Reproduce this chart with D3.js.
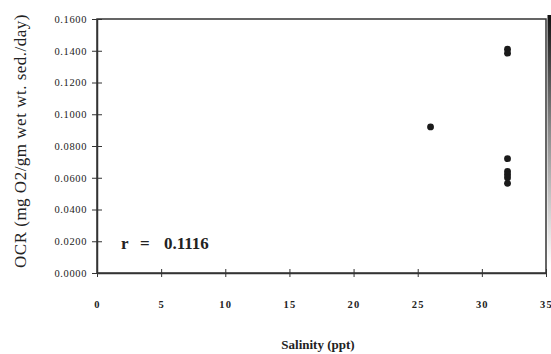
<!DOCTYPE html>
<html>
<head>
<meta charset="utf-8">
<script src="https://cdn.jsdelivr.net/npm/d3@7"></script>
<style>
  html, body { margin: 0; padding: 0; background: #fff; }
  svg { display: block; }
  text { font-family: "Liberation Serif", "DejaVu Serif", serif; fill: #222; }
</style>
</head>
<body>
<svg id="chart" width="551" height="354"></svg>
<script>
// Oxygen consumption rate vs salinity
const salinity = [26, 32, 32, 32, 32, 32, 32, 32];
const ocr = [0.0920, 0.1410, 0.1385, 0.0720, 0.0640, 0.0620, 0.0600, 0.0565];
const xTicks = [0, 5, 10, 15, 20, 25, 30, 35];
const yTicks = [0, 0.02, 0.04, 0.06, 0.08, 0.10, 0.12, 0.14, 0.16];
const xTitle = "Salinity (ppt)";
const yTitle = "OCR (mg O2/gm wet wt. sed./day)";

const svg = d3.select("#chart");
const m = { left: 97, right: 546, top: 19, bottom: 273 };

const x = d3.scaleLinear().domain([0, 35]).range([m.left, m.right]);
const y = d3.scaleLinear().domain([0, 0.16]).range([m.bottom, m.top]);

// frame
svg.append("rect")
  .attr("x", m.left).attr("y", m.top)
  .attr("width", m.right - m.left).attr("height", m.bottom - m.top)
  .attr("fill", "none").attr("stroke", "#333").attr("stroke-width", 1.5);

// dark scan edge at right
const grad = svg.append("defs").append("linearGradient")
  .attr("id", "edge").attr("x1", 0).attr("y1", 0).attr("x2", 0).attr("y2", 1);
grad.append("stop").attr("offset", "0%").attr("stop-color", "#111");
grad.append("stop").attr("offset", "45%").attr("stop-color", "#888");
grad.append("stop").attr("offset", "100%").attr("stop-color", "#fff");
svg.append("rect").attr("x", 547.5).attr("y", 15).attr("width", 3.5).attr("height", 250)
  .attr("fill", "url(#edge)");

// y axis
const yAxis = svg.append("g")
  .attr("transform", `translate(${m.left},0)`)
  .call(d3.axisLeft(y).tickValues(yTicks).tickFormat(d3.format(".4f"))
    .tickSize(5).tickSizeOuter(0));
yAxis.select(".domain").attr("stroke", "#333").attr("stroke-width", 1.5);
yAxis.selectAll(".tick line").attr("x2", 5).attr("x1", -5).attr("stroke", "#333");
yAxis.selectAll(".tick text")
  .attr("x", -10)
  .style("font-family", "Liberation Serif, serif")
  .style("font-size", "10.5px").style("letter-spacing", "0.6px").attr("fill", "#1a1a1a");

// x axis
const xAxis = svg.append("g")
  .attr("transform", `translate(0,${m.bottom})`)
  .call(d3.axisBottom(x).tickValues(xTicks).tickSize(5).tickSizeOuter(0));
xAxis.select(".domain").attr("stroke", "#333").attr("stroke-width", 1.5);
xAxis.selectAll(".tick line").attr("y1", -4).attr("y2", 4).attr("stroke", "#333");
xAxis.selectAll(".tick text")
  .attr("y", 28)
  .style("font-family", "Liberation Serif, serif")
  .style("font-size", "10.5px").style("font-weight", "bold")
  .style("letter-spacing", "1.2px").attr("fill", "#222");

// points
svg.append("g").selectAll("circle")
  .data(salinity.map((s, i) => ({ s, v: ocr[i] })))
  .join("circle")
  .attr("cx", d => x(d.s)).attr("cy", d => y(d.v))
  .attr("r", 3.4).attr("fill", "#1a1a1a");

// correlation label
const rText = svg.append("text")
  .attr("x", 121).attr("y", 249)
  .style("font-size", "17px").style("font-weight", "bold");
rText.append("tspan").text("r");
rText.append("tspan").attr("x", 140).text("=");
rText.append("tspan").attr("x", 164).text("0.1116");

// axis titles
svg.append("text")
  .attr("x", 318).attr("y", 349).attr("text-anchor", "middle")
  .style("font-size", "13px").style("font-weight", "bold")
  .text(xTitle);

svg.append("text")
  .attr("transform", "translate(26,141) rotate(-90)")
  .attr("text-anchor", "middle")
  .style("font-size", "17px").style("letter-spacing", "0.5px")
  .text(yTitle);
</script>
</body>
</html>
